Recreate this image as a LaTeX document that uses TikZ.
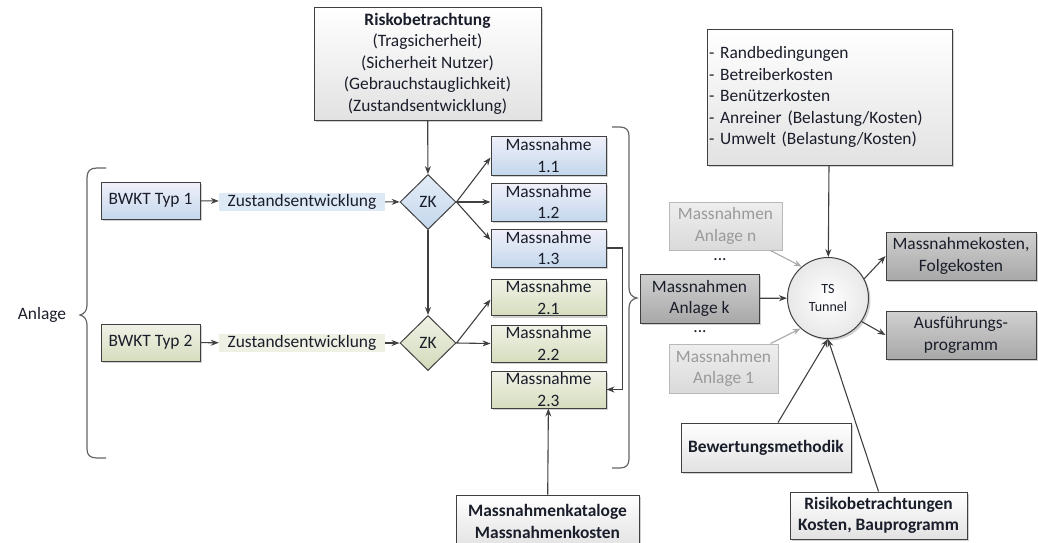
\documentclass[tikz,border=0pt]{standalone}
\usepackage{fontspec}
\setmainfont{Carlito}
\usetikzlibrary{shapes.geometric,shadows,arrows.meta,calc}

\definecolor{edge}{HTML}{404040}
\definecolor{txt}{HTML}{1A1E2A}
\definecolor{faint}{HTML}{9A9A9A}
\newcommand{\fs}{\fontsize{17.4}{21.5}\selectfont}
\newcommand{\fss}{\fontsize{14}{18}\selectfont}

\begin{document}
\begin{tikzpicture}[x=1pt,y=-1pt,
  every node/.style={text=txt},
  box/.style={draw=edge, line width=1pt, inner sep=0pt, align=center, font=\fs,
    drop shadow={opacity=0.3, shadow xshift=2pt, shadow yshift=-2pt, fill=black!60}},
  bluebox/.style={box, top color=blue!4!white!96!gray, bottom color={rgb,255:red,196;green,215;blue,236}},
  greenbox/.style={box, top color={rgb,255:red,240;green,242;blue,230}, bottom color={rgb,255:red,214;green,221;blue,190}},
  greybox/.style={box, top color=white, bottom color={rgb,255:red,226;green,226;blue,226}},
  darkbox/.style={box, top color={rgb,255:red,208;green,208;blue,208}, bottom color={rgb,255:red,168;green,168;blue,168}},
  paleBox/.style={draw={rgb,255:red,185;green,185;blue,185}, line width=1pt, inner sep=0pt, align=center, font=\fs,
    text=faint, top color={rgb,255:red,238;green,238;blue,238}, bottom color={rgb,255:red,218;green,218;blue,218}},
  decision/.style={diamond, draw=edge, line width=1pt, inner sep=0pt, font=\fs,
    minimum width=56pt, minimum height=55pt, aspect=1},
  flowlabel/.style={inner sep=0pt, font=\fs, minimum width=166pt, minimum height=18pt},
  conn/.style={draw=edge, line width=1.1pt, -{Stealth[length=8pt,width=6pt]}},
  paleconn/.style={draw={rgb,255:red,170;green,170;blue,170}, line width=1.1pt, -{Stealth[length=8pt,width=6pt]}},
  brace/.style={draw={rgb,255:red,100;green,100;blue,100}, line width=1.2pt}
]
\useasboundingbox (0,0) rectangle (1038,542);

% ---- upper part: risk box and first structure type
\node[greybox, minimum width=227pt, minimum height=113pt] (risk) at (427.5,63.5)
  {\textbf{Riskobetrachtung}\\(Tragsicherheit)\\(Sicherheit Nutzer)\\(Gebrauchstauglichkeit)\\(Zustandsentwicklung)};

\node[bluebox, minimum width=99pt, minimum height=37pt] (bw1) at (150.5,200.5) {BWKT Typ 1};
\node[flowlabel, fill={rgb,255:red,221;green,233;blue,245}] (ze1) at (302,201.5) {Zustandsentwicklung};
\node[decision, top color={rgb,255:red,228;green,237;blue,247}, bottom color={rgb,255:red,196;green,215;blue,236}] (zk1) at (428,202) {ZK};

\node[bluebox, minimum width=115pt, minimum height=39pt] (m11) at (548.5,155.5) {Massnahme\\1.1};
\node[bluebox, minimum width=115pt, minimum height=38pt] (m12) at (548.5,202) {Massnahme\\1.2};
\node[bluebox, minimum width=115pt, minimum height=38pt] (m13) at (548.5,248) {Massnahme\\1.3};

% ---- second structure type
\node[greenbox, minimum width=99pt, minimum height=37pt] (bw2) at (150.5,342.5) {BWKT Typ 2};
\node[flowlabel, fill={rgb,255:red,238;green,240;blue,227}] (ze2) at (302,343) {Zustandsentwicklung};
\node[decision, top color={rgb,255:red,240;green,242;blue,230}, bottom color={rgb,255:red,210;green,218;blue,186}] (zk2) at (428,343) {ZK};

\node[greenbox, minimum width=115pt, minimum height=36pt] (m21) at (548.5,297.5) {Massnahme\\2.1};
\node[greenbox, minimum width=115pt, minimum height=37pt] (m22) at (548.5,343.5) {Massnahme\\2.2};
\node[greenbox, minimum width=115pt, minimum height=37pt] (m23) at (548.5,389.5) {Massnahme\\2.3};

\node[greybox, minimum width=183pt, minimum height=53pt] (kat) at (547.5,521.5)
  {\textbf{Massnahmenkataloge}\\\textbf{Massnahmenkosten}};

\node[font=\fs] (anl) at (42,315) {Anlage};

% ---- braces
\draw[brace] (106,168) -- (97,168) .. controls (90,168) and (87,171) .. (87,178) -- (87,305)
  .. controls (87,311) and (84,314) .. (80,315) .. controls (84,316) and (87,319) .. (87,325)
  -- (87,449) .. controls (87,455) and (90,458) .. (97,458) -- (106,458);
\draw[brace] (612,127) -- (620,127) .. controls (626,127) and (629,130) .. (629,136) -- (629,288)
  .. controls (629,294) and (632,297) .. (637,298) .. controls (632,299) and (629,302) .. (629,308)
  -- (629,459) .. controls (629,465) and (626,468) .. (620,468) -- (612,468);

% ---- tunnel system
\node[darkbox, minimum width=119pt, minimum height=49pt] (ak) at (699.5,298.5) {Massnahmen\\Anlage k};
\node[paleBox, minimum width=113pt, minimum height=48pt] (an) at (725.5,226) {Massnahmen\\Anlage n};
\node[paleBox, minimum width=109pt, minimum height=49pt] (a1) at (723.5,368.5) {Massnahmen\\Anlage 1};
\node[font=\fs, inner sep=0pt] (dots1) at (720,260) {...};
\node[font=\fs, inner sep=0pt] (dots2) at (700,332) {...};

\node[circle, draw=edge, line width=1pt, minimum size=81pt, inner sep=0pt, align=center, font=\fss,
  inner color=white, outer color={rgb,255:red,232;green,232;blue,232},
  drop shadow={opacity=0.3, shadow xshift=2pt, shadow yshift=-2pt, fill=black!60}] (ts) at (828,298) {TS\\Tunnel};

\node[greybox, minimum width=245pt, minimum height=136pt, align=left, text width=241pt] (top) at (829.5,97)
  {- Randbedingungen\\- Betreiberkosten\\- Benützerkosten\\- Anreiner (Belastung/Kosten)\\- Umwelt (Belastung/Kosten)};

\node[darkbox, minimum width=150pt, minimum height=48pt] (mk) at (961,256) {Massnahmekosten,\\Folgekosten};
\node[darkbox, minimum width=150pt, minimum height=48pt] (af) at (961,335) {Ausführungs-\\programm};

\node[greybox, minimum width=170pt, minimum height=49pt] (bm) at (766,447.5) {\textbf{Bewertungsmethodik}};
\node[greybox, minimum width=177pt, minimum height=47pt] (rb) at (878.5,515.5)
  {\textbf{Risikobetrachtungen}\\\textbf{Kosten, Bauprogramm}};

% ---- connectors, left part
\draw[conn] (bw1) -- (ze1);
\draw[conn] (ze1) -- (zk1);
\draw[conn] (risk) -- (zk1);
\draw[conn] (zk1.east) -- ([yshift=-2pt]m11.west);
\draw[conn] (zk1.east) -- (m12.west);
\draw[conn] (zk1.east) -- ([yshift=8pt]m13.west);
\draw[conn] (zk1) -- (zk2);
\draw[conn] (bw2) -- (ze2);
\draw[conn] (ze2) -- (zk2);
\draw[conn] (zk2.east) -- ([yshift=-2pt]m21.west);
\draw[conn] (zk2.east) -- (m22.west);
\draw[conn] (m13.east) -- ++(16,0) |- (m23.east);
\draw[conn] (kat) -- (m23);

% ---- connectors, right part
\draw[conn] (ak) -- (ts);
\draw[paleconn] (an.south east) ++(-12,0) -- (ts.130);
\draw[paleconn] (a1.north east) ++(-8,0) -- (ts.-132);
\draw[conn] (top) -- (ts);
\draw[conn] (ts.28) -- (mk.west);
\draw[conn] (ts.-35) -- (af.west);
\draw[conn] ([xshift=12pt]bm.north) -- (ts.south);
\draw[conn] (rb.north) -- (ts.south);
\end{tikzpicture}
\end{document}
